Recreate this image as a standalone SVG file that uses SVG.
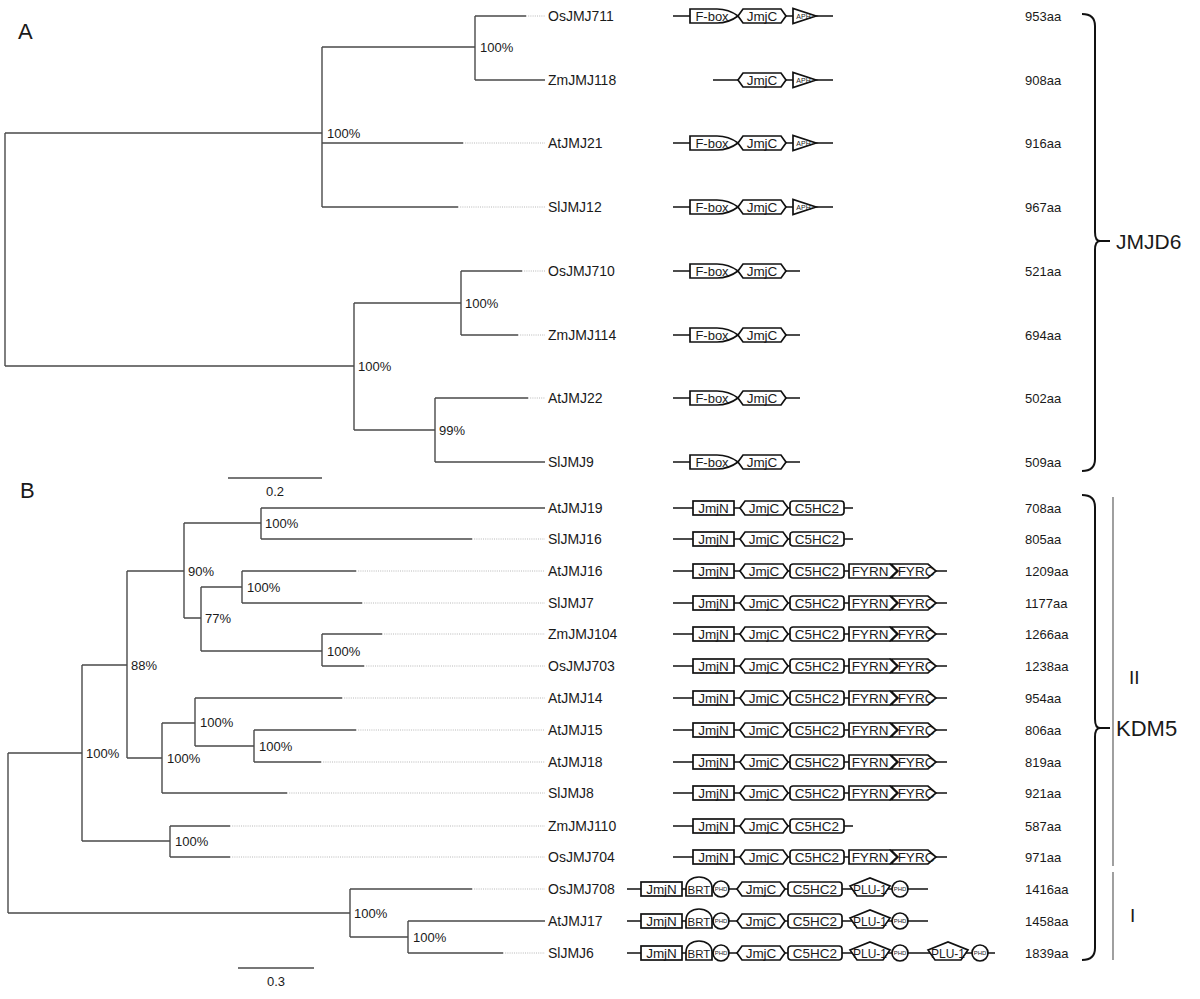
<svg xmlns="http://www.w3.org/2000/svg" xmlns:xlink="http://www.w3.org/1999/xlink" width="1200" height="999" viewBox="0 0 1200 999">
<style>
text{font-family:"Liberation Sans",Arial,sans-serif;fill:#1a1a1a}
.br{stroke:#4a4a4a;stroke-width:1.4;fill:none}
.dt{stroke:#b0b0b0;stroke-width:0.9;stroke-dasharray:1 1.2;fill:none}
.lf{font-size:14px}
.bs{font-size:13px}
.aa{font-size:13px}
.bb{stroke:#111;stroke-width:1.7;fill:none}
.dom path,.dom rect,.dom circle{fill:#fff;stroke:#111;stroke-width:1.7}
.dom text{font-size:13.5px;text-anchor:middle}
.big{font-size:21px}
.brace{stroke:#111;stroke-width:2;fill:none}
.grp{stroke:#888;stroke-width:1.6}
</style>
<defs>
<g id="fbox" class="dom"><path d="M0,-7 H27 C38,-7 44,-3 48,0 C44,3 38,7 27,7 H0 Z"/><text x="22" y="4.5" style="font-size:13px">F-box</text></g>
<g id="jmjc" class="dom"><path d="M0,0 L5,-7 H43 L48,0 L43,7 H5 Z"/><text x="24" y="4.5">JmjC</text></g>
<g id="aph" class="dom"><path d="M0,-7.5 V7.5 L23,0 Z"/><text x="10.5" y="2.5" style="font-size:7px">APH</text></g>
<g id="jmjn" class="dom"><rect x="0" y="-7" width="41" height="14"/><text x="20.5" y="4.5">JmjN</text></g>
<g id="c5hc2" class="dom"><rect x="0" y="-7" width="54" height="14" rx="3"/><text x="27" y="4.5">C5HC2</text></g>
<g id="fyrn" class="dom"><path d="M0,-7 H41 L48,0 L41,7 H0 Z"/><text x="21" y="4.5">FYRN</text></g>
<g id="fyrc" class="dom"><path d="M0,-7 H37 L45,0 L37,7 H0 L7,0 Z"/><text x="25" y="4.5">FYRC</text></g>
<g id="brt" class="dom"><path d="M0,7 V-1 C0,-8 6,-12 13,-12 C20,-12 26,-8 26,-1 V7 Z"/><text x="13" y="5" style="font-size:11.5px">BRT</text></g>
<g id="phd" class="dom"><circle cx="8" cy="0" r="8"/><text x="8" y="2" style="font-size:6px">PHD</text></g>
<g id="plu" class="dom"><path d="M0,-3 L20,-11 L40,-3 L33,7 H7 Z"/><text x="20" y="4.5" style="font-size:12px">PLU-1</text></g>
</defs>
<rect width="1200" height="999" fill="#fff"/>

<text x="18" y="39" style="font-size:22px">A</text>
<text x="20" y="498" style="font-size:22px">B</text>

<g id="connectors">
<g class="br">
<path d="M5,133 V366 M5,133 H322 M5,366 H354"/>
<path d="M322,47 V207 M322,47 H475 M322,143 H463 M322,207 H458"/>
<path d="M475,16 V80 M475,16 H526 M475,80 H545"/>
<path d="M354,303 V430 M354,303 H461 M354,430 H435"/>
<path d="M461,271 V335 M461,271 H522 M461,335 H518"/>
<path d="M435,398 V462 M435,398 H528 M435,462 H545"/>
<path d="M228,478 H322"/>
<path d="M8,753 V913 M8,753 H82 M8,913 H350"/>
<path d="M82,665 V841 M82,665 H127 M82,841 H170"/>
<path d="M127,571 V758 M127,571 H184 M127,758 H162"/>
<path d="M184,523 V618 M184,523 H261 M184,618 H201"/>
<path d="M261,508 V539 M261,508 H545 M261,539 H472"/>
<path d="M201,587 V651 M201,587 H242 M201,651 H322"/>
<path d="M242,571 V603 M242,571 H356 M242,603 H362"/>
<path d="M322,634 V666 M322,634 H382 M322,666 H364"/>
<path d="M162,723 V793 M162,723 H195 M162,793 H287"/>
<path d="M195,698 V746 M195,698 H342 M195,746 H254"/>
<path d="M254,730 V762 M254,730 H356 M254,762 H321"/>
<path d="M170,826 V857 M170,826 H230 M170,857 H230"/>
<path d="M350,889 V937 M350,889 H472 M350,937 H408"/>
<path d="M408,921 V953 M408,921 H545 M408,953 H503"/>
<path d="M238,968 H314"/>
</g>
<g class="dt">
<path d="M526,16 H545 M463,143 H545 M458,207 H545 M522,271 H545 M518,335 H545 M528,398 H545"/>
<path d="M472,539 H545 M356,571 H545 M362,603 H545 M382,634 H545 M364,666 H545 M342,698 H545 M356,730 H545 M321,762 H545 M287,793 H545 M230,826 H545 M230,857 H545 M472,889 H545 M503,953 H545"/>
</g>
</g>

<g id="bootstrap" class="bs">
<text x="327" y="138">100%</text>
<text x="480" y="52">100%</text>
<text x="358" y="371">100%</text>
<text x="465" y="308">100%</text>
<text x="439" y="435">99%</text>
<text x="265" y="528">100%</text>
<text x="188" y="576">90%</text>
<text x="247" y="592">100%</text>
<text x="205" y="623">77%</text>
<text x="327" y="656">100%</text>
<text x="131" y="670">88%</text>
<text x="86" y="758">100%</text>
<text x="200" y="727">100%</text>
<text x="259" y="751">100%</text>
<text x="167" y="763">100%</text>
<text x="175" y="846">100%</text>
<text x="354" y="918">100%</text>
<text x="413" y="942">100%</text>
</g>
<text x="275" y="496" class="bs" text-anchor="middle">0.2</text>
<text x="276" y="986" class="bs" text-anchor="middle">0.3</text>

<g id="OsJMJ711"><text class="lf" x="548" y="21">OsJMJ711</text><path class="bb" d="M673,16 H833"/><use href="#fbox" x="690" y="16"/><use href="#jmjc" x="738" y="16"/><use href="#aph" x="793" y="16"/><text class="aa" x="1025" y="21">953aa</text></g>
<g id="ZmJMJ118"><text class="lf" x="548" y="85">ZmJMJ118</text><path class="bb" d="M713,80 H833"/><use href="#jmjc" x="738" y="80"/><use href="#aph" x="793" y="80"/><text class="aa" x="1025" y="85">908aa</text></g>
<g id="AtJMJ21"><text class="lf" x="548" y="148">AtJMJ21</text><path class="bb" d="M673,143 H833"/><use href="#fbox" x="690" y="143"/><use href="#jmjc" x="738" y="143"/><use href="#aph" x="793" y="143"/><text class="aa" x="1025" y="148">916aa</text></g>
<g id="SlJMJ12"><text class="lf" x="548" y="212">SlJMJ12</text><path class="bb" d="M673,207 H833"/><use href="#fbox" x="690" y="207"/><use href="#jmjc" x="738" y="207"/><use href="#aph" x="793" y="207"/><text class="aa" x="1025" y="212">967aa</text></g>
<g id="OsJMJ710"><text class="lf" x="548" y="276">OsJMJ710</text><path class="bb" d="M673,271 H800"/><use href="#fbox" x="690" y="271"/><use href="#jmjc" x="738" y="271"/><text class="aa" x="1025" y="276">521aa</text></g>
<g id="ZmJMJ114"><text class="lf" x="548" y="340">ZmJMJ114</text><path class="bb" d="M673,335 H800"/><use href="#fbox" x="690" y="335"/><use href="#jmjc" x="738" y="335"/><text class="aa" x="1025" y="340">694aa</text></g>
<g id="AtJMJ22"><text class="lf" x="548" y="403">AtJMJ22</text><path class="bb" d="M673,398 H800"/><use href="#fbox" x="690" y="398"/><use href="#jmjc" x="738" y="398"/><text class="aa" x="1025" y="403">502aa</text></g>
<g id="SlJMJ9"><text class="lf" x="548" y="467">SlJMJ9</text><path class="bb" d="M673,462 H800"/><use href="#fbox" x="690" y="462"/><use href="#jmjc" x="738" y="462"/><text class="aa" x="1025" y="467">509aa</text></g>

<g id="AtJMJ19"><text class="lf" x="548" y="513">AtJMJ19</text><path class="bb" d="M673,508 H853"/><use href="#jmjn" x="693" y="508"/><use href="#jmjc" x="740" y="508"/><use href="#c5hc2" x="790" y="508"/><text class="aa" x="1025" y="513">708aa</text></g>
<g id="SlJMJ16"><text class="lf" x="548" y="544">SlJMJ16</text><path class="bb" d="M673,539 H853"/><use href="#jmjn" x="693" y="539"/><use href="#jmjc" x="740" y="539"/><use href="#c5hc2" x="790" y="539"/><text class="aa" x="1025" y="544">805aa</text></g>
<g id="AtJMJ16"><text class="lf" x="548" y="576">AtJMJ16</text><path class="bb" d="M673,571 H947"/><use href="#jmjn" x="693" y="571"/><use href="#jmjc" x="740" y="571"/><use href="#c5hc2" x="790" y="571"/><use href="#fyrn" x="849" y="571"/><use href="#fyrc" x="891" y="571"/><text class="aa" x="1025" y="576">1209aa</text></g>
<g id="SlJMJ7"><text class="lf" x="548" y="608">SlJMJ7</text><path class="bb" d="M673,603 H947"/><use href="#jmjn" x="693" y="603"/><use href="#jmjc" x="740" y="603"/><use href="#c5hc2" x="790" y="603"/><use href="#fyrn" x="849" y="603"/><use href="#fyrc" x="891" y="603"/><text class="aa" x="1025" y="608">1177aa</text></g>
<g id="ZmJMJ104"><text class="lf" x="548" y="639">ZmJMJ104</text><path class="bb" d="M673,634 H947"/><use href="#jmjn" x="693" y="634"/><use href="#jmjc" x="740" y="634"/><use href="#c5hc2" x="790" y="634"/><use href="#fyrn" x="849" y="634"/><use href="#fyrc" x="891" y="634"/><text class="aa" x="1025" y="639">1266aa</text></g>
<g id="OsJMJ703"><text class="lf" x="548" y="671">OsJMJ703</text><path class="bb" d="M673,666 H947"/><use href="#jmjn" x="693" y="666"/><use href="#jmjc" x="740" y="666"/><use href="#c5hc2" x="790" y="666"/><use href="#fyrn" x="849" y="666"/><use href="#fyrc" x="891" y="666"/><text class="aa" x="1025" y="671">1238aa</text></g>
<g id="AtJMJ14"><text class="lf" x="548" y="703">AtJMJ14</text><path class="bb" d="M673,698 H947"/><use href="#jmjn" x="693" y="698"/><use href="#jmjc" x="740" y="698"/><use href="#c5hc2" x="790" y="698"/><use href="#fyrn" x="849" y="698"/><use href="#fyrc" x="891" y="698"/><text class="aa" x="1025" y="703">954aa</text></g>
<g id="AtJMJ15"><text class="lf" x="548" y="735">AtJMJ15</text><path class="bb" d="M673,730 H947"/><use href="#jmjn" x="693" y="730"/><use href="#jmjc" x="740" y="730"/><use href="#c5hc2" x="790" y="730"/><use href="#fyrn" x="849" y="730"/><use href="#fyrc" x="891" y="730"/><text class="aa" x="1025" y="735">806aa</text></g>
<g id="AtJMJ18"><text class="lf" x="548" y="767">AtJMJ18</text><path class="bb" d="M673,762 H947"/><use href="#jmjn" x="693" y="762"/><use href="#jmjc" x="740" y="762"/><use href="#c5hc2" x="790" y="762"/><use href="#fyrn" x="849" y="762"/><use href="#fyrc" x="891" y="762"/><text class="aa" x="1025" y="767">819aa</text></g>
<g id="SlJMJ8"><text class="lf" x="548" y="798">SlJMJ8</text><path class="bb" d="M673,793 H947"/><use href="#jmjn" x="693" y="793"/><use href="#jmjc" x="740" y="793"/><use href="#c5hc2" x="790" y="793"/><use href="#fyrn" x="849" y="793"/><use href="#fyrc" x="891" y="793"/><text class="aa" x="1025" y="798">921aa</text></g>
<g id="ZmJMJ110"><text class="lf" x="548" y="831">ZmJMJ110</text><path class="bb" d="M673,826 H853"/><use href="#jmjn" x="693" y="826"/><use href="#jmjc" x="740" y="826"/><use href="#c5hc2" x="790" y="826"/><text class="aa" x="1025" y="831">587aa</text></g>
<g id="OsJMJ704"><text class="lf" x="548" y="862">OsJMJ704</text><path class="bb" d="M673,857 H947"/><use href="#jmjn" x="693" y="857"/><use href="#jmjc" x="740" y="857"/><use href="#c5hc2" x="790" y="857"/><use href="#fyrn" x="849" y="857"/><use href="#fyrc" x="891" y="857"/><text class="aa" x="1025" y="862">971aa</text></g>
<g id="OsJMJ708"><text class="lf" x="548" y="894">OsJMJ708</text><path class="bb" d="M627,889 H928"/><use href="#jmjn" x="641" y="889"/><use href="#brt" x="686" y="889"/><use href="#phd" x="713" y="889"/><use href="#jmjc" x="737" y="889"/><use href="#c5hc2" x="788" y="889"/><use href="#plu" x="850" y="889"/><use href="#phd" x="892" y="889"/><text class="aa" x="1025" y="894">1416aa</text></g>
<g id="AtJMJ17"><text class="lf" x="548" y="926">AtJMJ17</text><path class="bb" d="M627,921 H928"/><use href="#jmjn" x="641" y="921"/><use href="#brt" x="686" y="921"/><use href="#phd" x="713" y="921"/><use href="#jmjc" x="737" y="921"/><use href="#c5hc2" x="788" y="921"/><use href="#plu" x="850" y="921"/><use href="#phd" x="892" y="921"/><text class="aa" x="1025" y="926">1458aa</text></g>
<g id="SlJMJ6"><text class="lf" x="548" y="958">SlJMJ6</text><path class="bb" d="M627,953 H995"/><use href="#jmjn" x="641" y="953"/><use href="#brt" x="686" y="953"/><use href="#phd" x="713" y="953"/><use href="#jmjc" x="737" y="953"/><use href="#c5hc2" x="788" y="953"/><use href="#plu" x="850" y="953"/><use href="#phd" x="892" y="953"/><use href="#plu" x="928" y="953"/><use href="#phd" x="972" y="953"/><text class="aa" x="1025" y="958">1839aa</text></g>

<g id="JMJD6">
<path class="brace" d="M1082,14 Q1095,14 1095,26 V232 Q1095,241 1100,241 Q1095,241 1095,250 V459 Q1095,471 1082,471 M1100,241 H1110"/>
<text class="big" x="1116" y="249">JMJD6</text>
</g>
<g id="KDM5">
<path class="brace" d="M1082,495 Q1095,495 1095,507 V719 Q1095,728 1100,728 Q1095,728 1095,737 V948 Q1095,960 1082,960 M1100,728 H1110"/>
<text class="big" x="1116" y="736" style="font-size:22px">KDM5</text>
</g>
<g id="groupII"><path class="grp" d="M1113,497 V866"/><text x="1129" y="684" style="font-size:19px">II</text></g>
<g id="groupI"><path class="grp" d="M1113,872 V960"/><text x="1130" y="922" style="font-size:19px">I</text></g>
</svg>
